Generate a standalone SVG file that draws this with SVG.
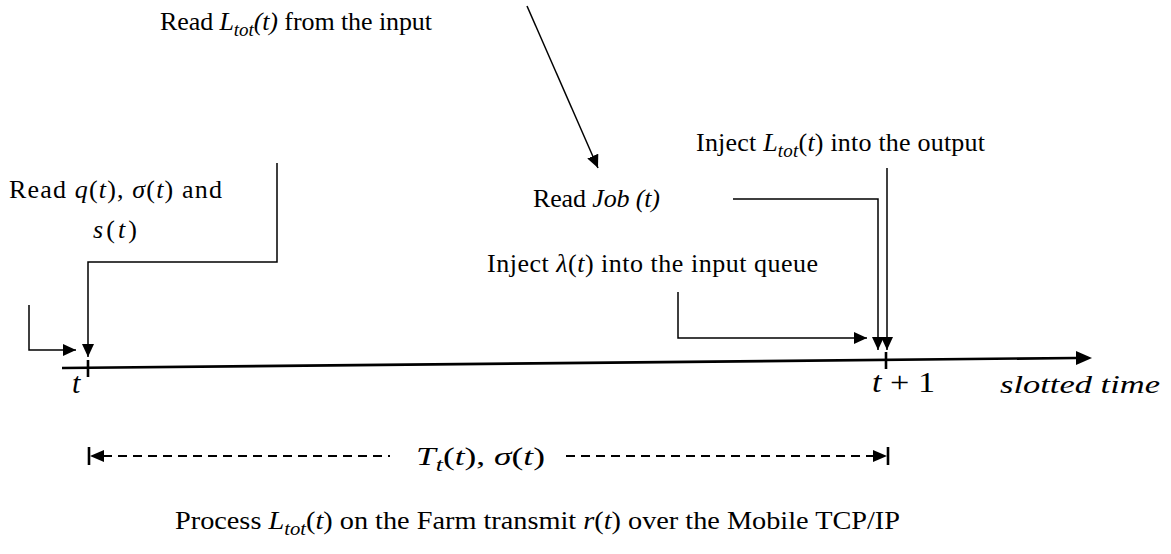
<svg xmlns="http://www.w3.org/2000/svg" width="1171" height="554" viewBox="0 0 1171 554">
  <style>
    text { font-family: "Liberation Serif", "Times New Roman", serif; font-size: 26px; fill: #000; }
    .i { font-style: italic; }
    .sub { font-size: 19px; font-style: italic; }
    .big { font-size: 30px; }
    .wire { fill: none; stroke: #000; stroke-width: 1.5; }
    .axis { fill: none; stroke: #000; stroke-width: 2.6; }
    .dash { fill: none; stroke: #000; stroke-width: 2.2; stroke-dasharray: 9 6; }
  </style>
  <defs>
    <marker id="head" markerUnits="userSpaceOnUse" markerWidth="14" markerHeight="12" refX="13" refY="6" orient="auto">
      <path d="M0,0 L13,6 L0,12 Z" fill="#000"/>
    </marker>
  </defs>

  <!-- time axis with slot ticks -->
  <g id="axis">
    <path class="axis" d="M62,368 L1076,358" />
    <path d="M1076,351 L1092,358 L1076,365 Z" fill="#000"/>
    <line class="axis" x1="88" y1="360" x2="88" y2="377"/>
    <line class="axis" x1="886" y1="352" x2="886" y2="369"/>
    <text class="i big" x="72" y="393">t</text>
    <text class="big" x="872" y="392" textLength="63" lengthAdjust="spacingAndGlyphs"><tspan class="i">t</tspan> + 1</text>
    <text class="i" x="1000" y="393" font-size="34" textLength="160" lengthAdjust="spacingAndGlyphs">slotted time</text>
  </g>

  <g id="read-ltot">
    <text x="160" y="30" textLength="272" lengthAdjust="spacing">Read <tspan class="i">L</tspan><tspan class="sub" dy="6">tot</tspan><tspan class="i" dy="-6">(t)</tspan> from the input</text>
  </g>
  <g id="inject-ltot">
    <text x="696" y="151" textLength="289" lengthAdjust="spacing">Inject  <tspan class="i">L</tspan><tspan class="sub" dy="6">tot</tspan><tspan dy="-6">(</tspan><tspan class="i">t</tspan>) into the output</text>
  </g>
  <g id="read-qst">
    <text x="9" y="198" textLength="213" lengthAdjust="spacing">Read <tspan class="i">q</tspan>(<tspan class="i">t</tspan>),  <tspan class="i">σ</tspan>(<tspan class="i">t</tspan>)  and</text>
    <text x="93" y="238" textLength="44" lengthAdjust="spacing"><tspan class="i">s</tspan>(<tspan class="i">t</tspan>)</text>
  </g>
  <g id="read-job">
    <text x="533" y="207" textLength="127" lengthAdjust="spacing">Read <tspan class="i">Job (t)</tspan></text>
  </g>
  <g id="inject-lambda">
    <text x="487" y="272" textLength="331" lengthAdjust="spacing">Inject  <tspan class="i">λ</tspan>(<tspan class="i">t</tspan>)  into the input queue</text>
  </g>
  <g id="slot-span">
    <text x="416" y="465" font-size="32" textLength="129" lengthAdjust="spacingAndGlyphs"><tspan class="i">T</tspan><tspan class="sub" dy="6">t</tspan><tspan dy="-6">(</tspan><tspan class="i">t</tspan>), <tspan class="i">σ</tspan>(<tspan class="i">t</tspan>)</text>
  </g>
  <g id="process">
    <text x="175" y="529" font-size="31" textLength="725" lengthAdjust="spacingAndGlyphs">Process <tspan class="i">L</tspan><tspan class="sub" dy="6">tot</tspan><tspan dy="-6">(</tspan><tspan class="i">t</tspan>)  on the Farm transmit  <tspan class="i">r</tspan>(<tspan class="i">t</tspan>)  over the Mobile TCP/IP</text>
  </g>

  <g id="connectors">
    <!-- arrival at slot start -->
    <path class="wire" d="M29,305 V350 H76" marker-end="url(#head)"/>
    <!-- read q, sigma, s -->
    <path class="wire" d="M277,163 V262 H88 V357" marker-end="url(#head)"/>
    <!-- read L_tot from input -->
    <path class="wire" d="M527,6 L598,168" marker-end="url(#head)"/>
    <!-- read job -->
    <path class="wire" d="M733,199 H878 V350" marker-end="url(#head)"/>
    <!-- inject L_tot into output -->
    <path class="wire" d="M887,168 V350" marker-end="url(#head)"/>
    <!-- inject lambda into input queue -->
    <path class="wire" d="M678,292 V338 H867" marker-end="url(#head)"/>
    <!-- slot duration span -->
    <path class="dash" d="M103,456 H390"/>
    <path class="dash" d="M566,456 H873"/>
    <path d="M104,450 L90,456 L104,462 Z" fill="#000"/>
    <path d="M873,450 L887,456 L873,462 Z" fill="#000"/>
    <line x1="89" y1="447" x2="89" y2="465" stroke="#000" stroke-width="2.6"/>
    <line x1="888" y1="447" x2="888" y2="465" stroke="#000" stroke-width="2.6"/>
  </g>
</svg>
